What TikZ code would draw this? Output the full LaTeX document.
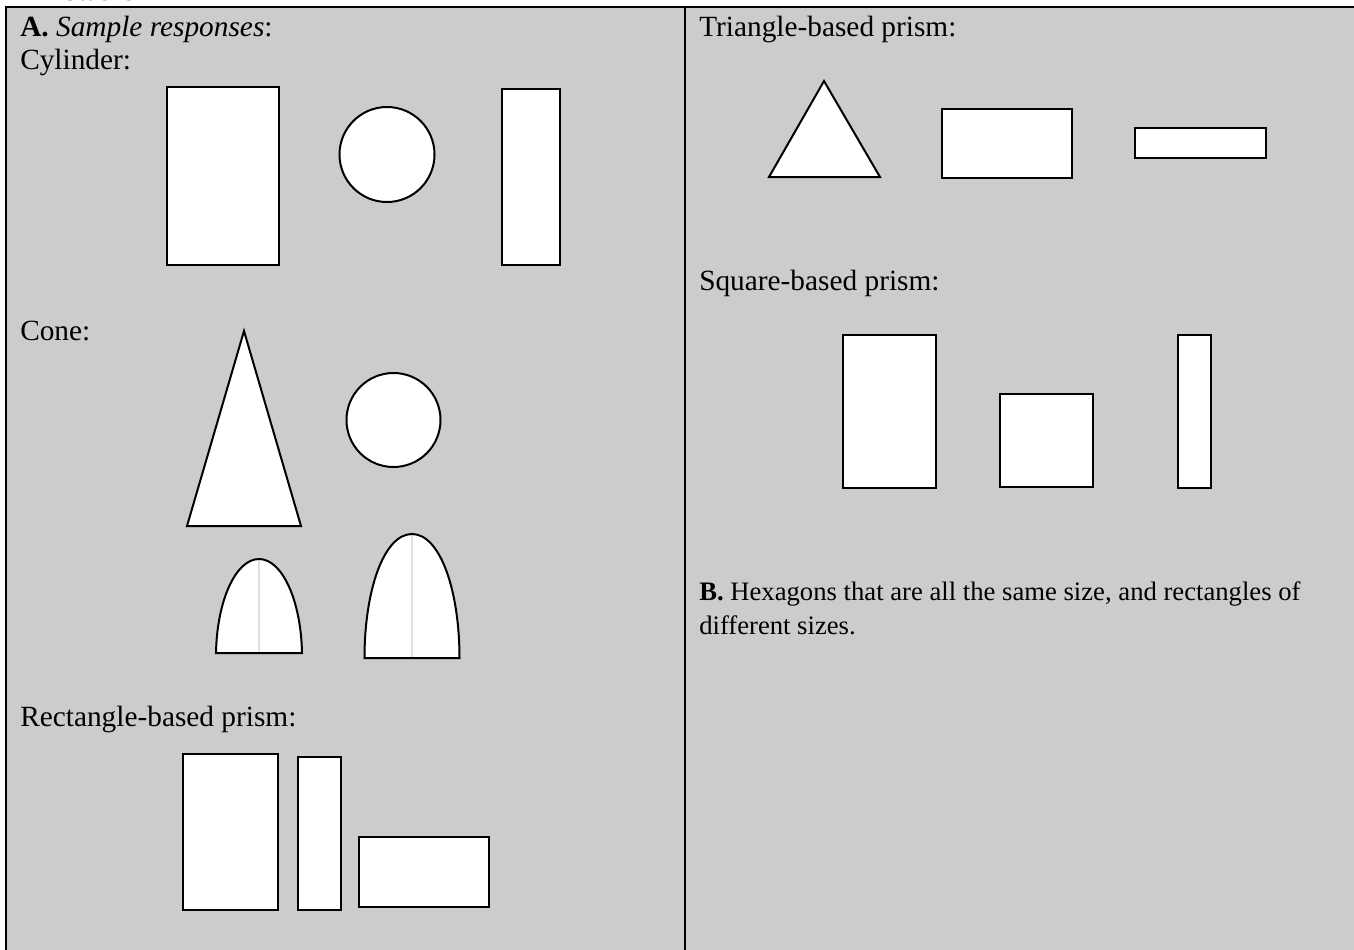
\documentclass[tikz,border=0pt]{standalone}
\usepackage{fontspec}
\setmainfont{Liberation Serif}
\definecolor{panelgray}{RGB}{204,204,204}
\definecolor{seamgray}{RGB}{225,225,225}
\tikzset{
  solid shape/.style={draw=black, fill=white, line width=1.5pt},
  label text/.style={anchor=base west, inner sep=0pt, font=\fontsize{22}{26}\selectfont},
  small text/.style={anchor=base west, inner sep=0pt, font=\fontsize{20}{24}\selectfont}
}
\begin{document}
\begin{tikzpicture}[x=0.75pt, y=-0.75pt]
  \useasboundingbox (0,0) rectangle (1354,950);
  %% 1. Panels
  \fill[panelgray] (6,7) rectangle (1354,950);
  \draw[line width=1.5pt] (6,950) -- (6,7) -- (1354,7);
  \draw[line width=1.5pt] (685,7) -- (685,950);
  \begin{scope}
    \clip (0,0) rectangle (1354,1.5);
    \node[label text] (heading) at (27,0.5) {\textbf{Answers}};
  \end{scope}
  %% 2. Labels
  \node[label text] (partA) at (20,36.5) {\textbf{A.} \textit{Sample responses}:};
  \node[label text] (cylinder) at (20,69.5) {Cylinder:};
  \node[label text] (cone) at (20,340.5) {Cone:};
  \node[label text] (rectprism) at (20,726.5) {Rectangle-based prism:};
  \node[label text] (triprism) at (699,36.5) {Triangle-based prism:};
  \node[label text] (squareprism) at (699,290.5) {Square-based prism:};
  \node[small text] (partB) at (699,600) {\textbf{B.} Hexagons that are all the same size, and rectangles of};
  \node[small text] (partBb) at (699,634) {different sizes.};
  %% 3. Cylinder
  \draw[solid shape] (167,87) rectangle (279,265);
  \draw[solid shape] (387,154.5) circle (47.5);
  \draw[solid shape] (502,89) rectangle (560,265);
  %% 4. Cone
  \draw[solid shape] (244,331) -- (187,526) -- (301,526) -- cycle;
  \draw[solid shape] (393.5,420) circle (47);
  \fill[white] (216,653) .. controls (217,600) and (236,559) .. (259,559) .. controls (282,559) and (301,600) .. (302,653) -- cycle;
  \draw[seamgray, line width=0.8pt] (259,559) -- (259,653);
  \draw[solid shape, fill=none] (216,653) .. controls (217,600) and (236,559) .. (259,559) .. controls (282,559) and (301,600) .. (302,653) -- cycle;
  \fill[white] (364.5,658) .. controls (364.5,590) and (384,534) .. (412,534) .. controls (440,534) and (459.5,590) .. (459.5,658) -- cycle;
  \draw[seamgray, line width=0.8pt] (412,534) -- (412,658);
  \draw[solid shape, fill=none] (364.5,658) .. controls (364.5,590) and (384,534) .. (412,534) .. controls (440,534) and (459.5,590) .. (459.5,658) -- cycle;
  %% 5. Rectangle-based prism
  \draw[solid shape] (183,754) rectangle (278,910);
  \draw[solid shape] (298,757) rectangle (341,910);
  \draw[solid shape] (359,837) rectangle (489,907);
  %% 6. Triangle-based prism
  \draw[solid shape] (824,81) -- (769,177) -- (880,177) -- cycle;
  \draw[solid shape] (942,109) rectangle (1072,178);
  \draw[solid shape] (1135,128) rectangle (1266,158);
  %% 7. Square-based prism
  \draw[solid shape] (843,335) rectangle (936,488);
  \draw[solid shape] (1000,394) rectangle (1093,487);
  \draw[solid shape] (1178,335) rectangle (1211,488);
\end{tikzpicture}
\end{document}
